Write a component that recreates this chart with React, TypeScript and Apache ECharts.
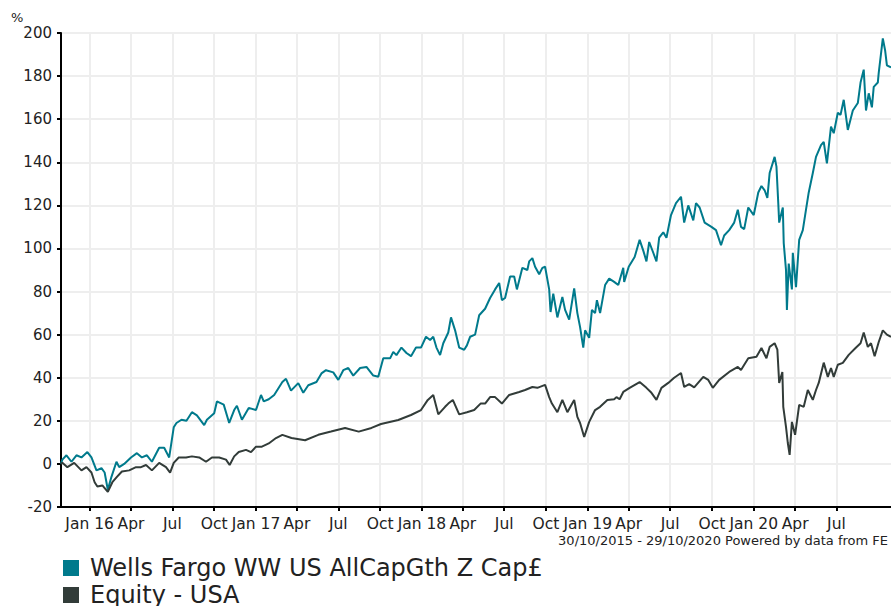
import React, { useEffect, useRef } from "react";
import * as echarts from "echarts";

const fundName = "Wells Fargo WW US AllCapGth Z Cap£";
const sectorName = "Equity - USA";
const footerText = "30/10/2015 - 29/10/2020 Powered by data from FE";
const yUnit = "%";
const startDate = "2015-10-30";
const endDate = "2020-10-29";
const yMin = -20;
const yMax = 200;
const yStep = 20;
const monthNames = ["Jan", "Feb", "Mar", "Apr", "May", "Jun", "Jul", "Aug", "Sep", "Oct", "Nov", "Dec"];
const quarterTicks = [
  "2016-01-01", "2016-04-01", "2016-07-01", "2016-10-01",
  "2017-01-01", "2017-04-01", "2017-07-01", "2017-10-01",
  "2018-01-01", "2018-04-01", "2018-07-01", "2018-10-01",
  "2019-01-01", "2019-04-01", "2019-07-01", "2019-10-01",
  "2020-01-01", "2020-04-01", "2020-07-01",
];

const fundData: [string, number][] = [
  ["2015-10-30", 0], ["2015-11-02", 2], ["2015-11-11", 4], ["2015-11-22", 1], ["2015-12-03", 4],
  ["2015-12-14", 3], ["2015-12-27", 5.5], ["2016-01-05", 3], ["2016-01-16", -3], ["2016-01-27", -2],
  ["2016-02-03", -4], ["2016-02-10", -12], ["2016-02-18", -6], ["2016-02-29", 1], ["2016-03-06", -1.5],
  ["2016-03-17", 0], ["2016-04-01", 3], ["2016-04-14", 5], ["2016-04-25", 3], ["2016-05-06", 4],
  ["2016-05-17", 1], ["2016-06-02", 7.5], ["2016-06-13", 7.5], ["2016-06-24", 3], ["2016-07-04", 17],
  ["2016-07-10", 19], ["2016-07-21", 20.5], ["2016-08-01", 20], ["2016-08-13", 24], ["2016-08-24", 22.5],
  ["2016-09-09", 18], ["2016-09-15", 20.5], ["2016-10-01", 23.5], ["2016-10-07", 29], ["2016-10-22", 27.5],
  ["2016-11-03", 19], ["2016-11-14", 25], ["2016-11-20", 27], ["2016-12-01", 20.5], ["2016-12-16", 26],
  ["2017-01-01", 25], ["2017-01-12", 32], ["2017-01-18", 29], ["2017-01-29", 30], ["2017-02-10", 32],
  ["2017-02-19", 35], ["2017-02-28", 38], ["2017-03-08", 39.5], ["2017-03-19", 34], ["2017-04-04", 37.5],
  ["2017-04-15", 33], ["2017-04-26", 36.5], ["2017-05-14", 38], ["2017-05-25", 42], ["2017-06-04", 43.5],
  ["2017-06-20", 42.5], ["2017-07-01", 39], ["2017-07-12", 43.5], ["2017-07-23", 44.5], ["2017-08-03", 41],
  ["2017-08-18", 44.5], ["2017-09-01", 45], ["2017-09-16", 41], ["2017-09-27", 40.5], ["2017-10-08", 49],
  ["2017-10-23", 49], ["2017-10-30", 52], ["2017-11-06", 50.5], ["2017-11-17", 54], ["2017-11-28", 51.5],
  ["2017-12-08", 50], ["2017-12-19", 54], ["2017-12-30", 54], ["2018-01-10", 59], ["2018-01-19", 57.5],
  ["2018-01-26", 59], ["2018-02-02", 54], ["2018-02-10", 50.5], ["2018-02-17", 56], ["2018-02-28", 61],
  ["2018-03-06", 68], ["2018-03-15", 62], ["2018-03-24", 54], ["2018-04-04", 53], ["2018-04-10", 55],
  ["2018-04-17", 59], ["2018-04-28", 60], ["2018-05-07", 69], ["2018-05-20", 72], ["2018-05-31", 77],
  ["2018-06-11", 81], ["2018-06-20", 84], ["2018-06-26", 76], ["2018-07-03", 77], ["2018-07-14", 87],
  ["2018-07-23", 87], ["2018-07-29", 81], ["2018-08-10", 91], ["2018-08-21", 90], ["2018-08-25", 94],
  ["2018-09-01", 95.5], ["2018-09-07", 91.5], ["2018-09-16", 88], ["2018-09-23", 91], ["2018-09-29", 91.5],
  ["2018-10-08", 81], ["2018-10-11", 70.5], ["2018-10-17", 79], ["2018-10-26", 68], ["2018-11-06", 77.5],
  ["2018-11-12", 71.5], ["2018-11-21", 67], ["2018-12-02", 81.5], ["2018-12-09", 70], ["2018-12-15", 63.5],
  ["2018-12-22", 54], ["2018-12-26", 62], ["2019-01-04", 58.5], ["2019-01-10", 71.5], ["2019-01-17", 70],
  ["2019-01-21", 76], ["2019-01-28", 70], ["2019-02-08", 83], ["2019-02-17", 86], ["2019-02-28", 84.5],
  ["2019-03-09", 83], ["2019-03-20", 91], ["2019-03-22", 84.5], ["2019-04-01", 91.5], ["2019-04-14", 96],
  ["2019-04-25", 104], ["2019-05-03", 99], ["2019-05-10", 94], ["2019-05-16", 103], ["2019-05-25", 98],
  ["2019-06-01", 94], ["2019-06-07", 105], ["2019-06-16", 107.5], ["2019-06-23", 105], ["2019-07-03", 115.5],
  ["2019-07-14", 121], ["2019-07-25", 124], ["2019-08-01", 112], ["2019-08-10", 120], ["2019-08-21", 113],
  ["2019-08-27", 121], ["2019-09-04", 119], ["2019-09-15", 112], ["2019-09-30", 110], ["2019-10-10", 108.5],
  ["2019-10-21", 101.5], ["2019-10-28", 106], ["2019-11-08", 108.5], ["2019-11-19", 112], ["2019-11-27", 118],
  ["2019-12-04", 110], ["2019-12-11", 109], ["2019-12-20", 119], ["2020-01-01", 115.5], ["2020-01-11", 126],
  ["2020-01-18", 129], ["2020-01-25", 127], ["2020-01-31", 123.5], ["2020-02-05", 135], ["2020-02-16", 142.5],
  ["2020-02-20", 138], ["2020-02-24", 121], ["2020-02-26", 112], ["2020-03-05", 119], ["2020-03-07", 102.5],
  ["2020-03-12", 90], ["2020-03-14", 71.5], ["2020-03-18", 93], ["2020-03-25", 81], ["2020-03-27", 98],
  ["2020-04-03", 82], ["2020-04-10", 104], ["2020-04-18", 108.5], ["2020-04-25", 118], ["2020-05-01", 126],
  ["2020-05-10", 135], ["2020-05-17", 142.5], ["2020-05-28", 148], ["2020-06-03", 149.5], ["2020-06-10", 139.5],
  ["2020-06-19", 156.5], ["2020-06-25", 153.5], ["2020-07-04", 163], ["2020-07-10", 162], ["2020-07-17", 169],
  ["2020-07-26", 155], ["2020-08-06", 164], ["2020-08-17", 167.5], ["2020-08-23", 177], ["2020-08-30", 183],
  ["2020-09-04", 164], ["2020-09-10", 172], ["2020-09-17", 165.5], ["2020-09-21", 175], ["2020-09-30", 177],
  ["2020-10-02", 181.5], ["2020-10-11", 197.5], ["2020-10-16", 192], ["2020-10-20", 185], ["2020-10-29", 184],
];

const sectorData: [string, number][] = [
  ["2015-10-30", 0], ["2015-11-02", 0.5], ["2015-11-13", -1.5], ["2015-11-28", 0.5], ["2015-12-14", -3],
  ["2015-12-25", -1.5], ["2016-01-05", -4], ["2016-01-12", -8.5], ["2016-01-18", -10.5], ["2016-01-29", -10],
  ["2016-02-10", -13], ["2016-02-20", -8.5], ["2016-03-01", -6], ["2016-03-12", -3.5], ["2016-03-28", -3],
  ["2016-04-12", -1.5], ["2016-04-23", -1.5], ["2016-05-04", -0.5], ["2016-05-17", -3], ["2016-06-02", 0.5],
  ["2016-06-17", -1.5], ["2016-06-26", -4], ["2016-07-04", 0.5], ["2016-07-15", 3], ["2016-07-31", 3],
  ["2016-08-13", 3.5], ["2016-08-29", 3], ["2016-09-13", 1], ["2016-09-26", 3], ["2016-10-12", 3],
  ["2016-10-27", 2], ["2016-11-04", -0.5], ["2016-11-14", 3.5], ["2016-11-24", 5.5], ["2016-12-10", 6.5],
  ["2016-12-21", 5.5], ["2017-01-01", 8], ["2017-01-14", 8], ["2017-01-29", 9.5], ["2017-02-14", 12],
  ["2017-02-28", 13.5], ["2017-03-20", 12], ["2017-04-19", 11], ["2017-05-18", 13.5], ["2017-06-15", 15],
  ["2017-07-16", 16.7], ["2017-08-15", 15], ["2017-09-12", 16.7], ["2017-10-03", 18.5], ["2017-11-10", 20.4],
  ["2017-12-08", 22.7], ["2017-12-30", 25], ["2018-01-14", 29.7], ["2018-01-26", 32], ["2018-02-06", 23],
  ["2018-02-21", 26.5], ["2018-02-28", 28], ["2018-03-10", 29.7], ["2018-03-24", 23], ["2018-04-10", 24],
  ["2018-04-26", 25], ["2018-05-10", 28], ["2018-05-20", 28], ["2018-05-31", 31], ["2018-06-11", 31],
  ["2018-06-26", 28], ["2018-07-12", 32], ["2018-08-03", 33.4], ["2018-08-16", 34.3], ["2018-09-01", 35.7],
  ["2018-09-12", 35.3], ["2018-09-29", 36.7], ["2018-10-08", 31], ["2018-10-14", 28], ["2018-10-26", 24],
  ["2018-11-06", 29.7], ["2018-11-17", 24], ["2018-12-02", 29.7], ["2018-12-09", 21.8], ["2018-12-15", 19],
  ["2018-12-24", 12.5], ["2019-01-04", 19.5], ["2019-01-17", 25], ["2019-01-28", 26.5], ["2019-02-13", 29.7],
  ["2019-02-28", 30], ["2019-03-05", 31], ["2019-03-12", 30], ["2019-03-20", 33.4], ["2019-04-03", 35.3],
  ["2019-04-25", 38], ["2019-05-10", 35.3], ["2019-05-21", 33], ["2019-06-01", 29.7], ["2019-06-12", 35.3],
  ["2019-06-27", 37.6], ["2019-07-10", 40], ["2019-07-25", 42.2], ["2019-08-01", 35.7], ["2019-08-12", 37],
  ["2019-08-23", 35.5], ["2019-09-12", 40.4], ["2019-09-23", 39], ["2019-10-03", 35.3], ["2019-10-17", 39],
  ["2019-11-08", 42.7], ["2019-11-27", 45], ["2019-12-04", 43.6], ["2019-12-20", 49], ["2020-01-07", 49.7],
  ["2020-01-18", 53.8], ["2020-01-29", 49], ["2020-02-05", 54.3], ["2020-02-16", 56], ["2020-02-22", 53],
  ["2020-02-26", 37.6], ["2020-03-04", 42.7], ["2020-03-06", 26.5], ["2020-03-12", 17.2], ["2020-03-16", 9.7],
  ["2020-03-20", 4.2], ["2020-03-25", 19.5], ["2020-04-01", 13.5], ["2020-04-10", 27.4], ["2020-04-20", 26.5],
  ["2020-04-29", 34.3], ["2020-05-10", 29.7], ["2020-05-17", 34.3], ["2020-05-23", 37.6], ["2020-06-03", 47],
  ["2020-06-12", 40.4], ["2020-06-19", 44.5], ["2020-06-25", 40.4], ["2020-07-04", 46], ["2020-07-15", 46.9],
  ["2020-07-28", 50.6], ["2020-08-12", 53.8], ["2020-08-23", 56], ["2020-08-30", 61], ["2020-09-08", 54.3],
  ["2020-09-15", 56], ["2020-09-23", 50], ["2020-10-02", 56.6], ["2020-10-11", 62], ["2020-10-20", 60],
  ["2020-10-29", 59],
];

const fundColor = "#007a8c";
const sectorColor = "#323c39";
const font = "DejaVu Sans, Verdana, sans-serif";

function toTime(s: string): number {
  const [y, m, d] = s.split("-").map(Number);
  return Date.UTC(y, m - 1, d);
}

export default function App() {
  const ref = useRef<HTMLDivElement>(null);
  useEffect(() => {
    if (!ref.current) return;
    const chart = echarts.init(ref.current, undefined, { renderer: "svg" });
    const tickValues = quarterTicks.map(toTime);
    chart.setOption({
      animation: false,
      backgroundColor: "#ffffff",
      textStyle: { fontFamily: font },
      grid: { left: 61, right: -4, top: 33, bottom: 99, containLabel: false },
      xAxis: {
        type: "value",
        min: toTime(startDate),
        max: toTime(endDate),
        axisLine: { onZero: false, lineStyle: { color: "#000", width: 2 } },
        axisTick: { show: true, length: 4, customValues: tickValues, lineStyle: { color: "#000", width: 2 } },
        axisLabel: {
          customValues: tickValues,
          color: "#222",
          fontSize: 15.5,
          fontFamily: font,
          margin: 9,
          hideOverlap: false,
          showMinLabel: true,
          showMaxLabel: true,
          formatter: (val: number) => {
            const d = new Date(val);
            const m = d.getUTCMonth();
            if (m === 0) return monthNames[0] + " " + String(d.getUTCFullYear()).slice(2);
            return monthNames[m];
          },
        },
        splitLine: { show: true, lineStyle: { color: "#eeeeee", width: 2 } },
      },
      yAxis: {
        type: "value",
        min: yMin,
        max: yMax,
        interval: yStep,
        axisLine: { show: true, lineStyle: { color: "#000", width: 2 } },
        axisTick: { show: true, length: 4, lineStyle: { color: "#000", width: 2 } },
        axisLabel: { color: "#222", fontSize: 15, fontFamily: font, margin: 9 },
        splitLine: { show: true, lineStyle: { color: "#eeeeee", width: 2 } },
      },
      series: [
        {
          name: fundName,
          type: "line",
          data: fundData.map(([d, v]) => [toTime(d), v]),
          showSymbol: false,
          lineStyle: { color: fundColor, width: 2 },
          itemStyle: { color: fundColor },
        },
        {
          name: sectorName,
          type: "line",
          data: sectorData.map(([d, v]) => [toTime(d), v]),
          showSymbol: false,
          lineStyle: { color: sectorColor, width: 2 },
          itemStyle: { color: sectorColor },
        },
      ],
      graphic: [
        {
          type: "text",
          left: 11,
          top: 11,
          style: { text: yUnit, fontSize: 13, fill: "#222", fontFamily: font },
        },
        {
          type: "text",
          right: 3,
          top: 534,
          style: { text: footerText, fontSize: 13, fill: "#222", fontFamily: font },
        },
        { type: "rect", shape: { x: 63, y: 560, width: 16, height: 16 }, style: { fill: fundColor } },
        {
          type: "text",
          x: 90,
          y: 568,
          style: { text: fundName, fontSize: 24, fill: "#222", fontFamily: font, verticalAlign: "middle" },
        },
        { type: "rect", shape: { x: 63, y: 587, width: 16, height: 16 }, style: { fill: sectorColor } },
        {
          type: "text",
          x: 90,
          y: 595,
          style: { text: sectorName, fontSize: 24, fill: "#222", fontFamily: font, verticalAlign: "middle" },
        },
      ],
    });
    return () => chart.dispose();
  }, []);
  return <div ref={ref} style={{ width: 891, height: 606, position: "absolute", left: 0, top: 0 }} />;
}
